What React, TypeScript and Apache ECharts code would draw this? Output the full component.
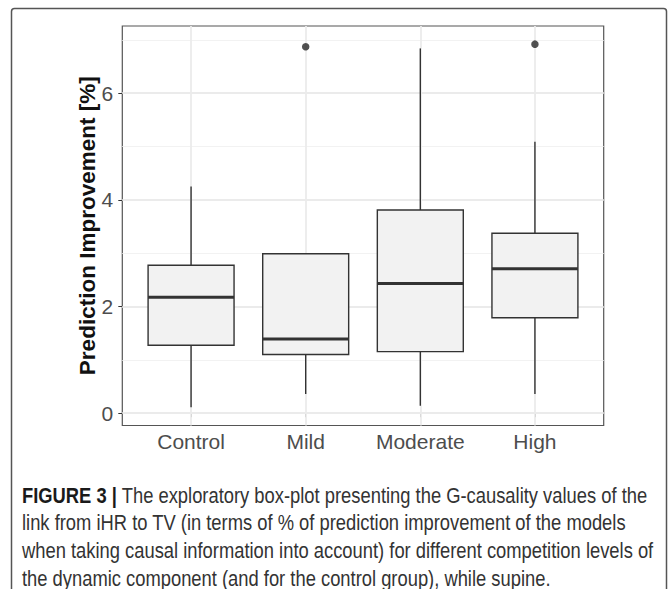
import React, { useEffect, useRef } from 'react';
import * as echarts from 'echarts';

const categories = ['Control', 'Mild', 'Moderate', 'High'];
const whiskerLow = [0.11, 0.36, 0.14, 0.36];
const quartile1 = [1.275, 1.1, 1.155, 1.79];
const medians = [2.175, 1.39, 2.43, 2.71];
const quartile3 = [2.775, 2.99, 3.81, 3.375];
const whiskerHigh = [4.25, 2.99, 6.84, 5.09];
const outlierCategory = ['Mild', 'High'];
const outlierValue = [6.87, 6.92];
const yMajorTicks = [0, 2, 4, 6];
const yMinorTicks = [1, 3, 5, 7];
const yMin = -0.23;
const yMax = 7.26;
const yTitle = 'Prediction Improvement [%]';
const captionBold = 'FIGURE 3 |';
const captionLines = [
  ' The exploratory box-plot presenting the G-causality values of the',
  'link from iHR to TV (in terms of % of prediction improvement of the models',
  'when taking causal information into account) for different competition levels of',
  'the dynamic component (and for the control group), while supine.',
];

const FONT = '"Liberation Sans", Arial, Helvetica, sans-serif';
const CAPTION_SIZE = 22;
const CAPTION_TARGET_WIDTH = 626;

function measure(text: string, font: string): number {
  const ctx = document.createElement('canvas').getContext('2d');
  if (!ctx) return text.length * 10;
  ctx.font = font;
  return ctx.measureText(text).width;
}

export default function App() {
  const ref = useRef<HTMLDivElement>(null);
  useEffect(() => {
    const chart = echarts.init(ref.current as HTMLDivElement, null, { renderer: 'svg' });
    const positions = categories.map((_, i) => i + 1);
    const boxData = categories.map((_, i) => [
      i + 1,
      whiskerLow[i],
      quartile1[i],
      medians[i],
      quartile3[i],
      whiskerHigh[i],
    ]);
    const outlierData = outlierCategory.map((c, i) => [categories.indexOf(c) + 1, outlierValue[i]]);
    const lineColor = '#333333';

    const w1 =
      measure(captionBold, `bold ${CAPTION_SIZE}px "Liberation Sans"`) +
      measure(captionLines[0], `${CAPTION_SIZE}px "Liberation Sans"`);
    const sx = w1 > 0 ? Math.min(1, CAPTION_TARGET_WIDTH / w1) : 0.9;

    const gridLeft = 122.3;
    const gridTop = 26;
    const gridHeight = 399.5;

    chart.setOption({
      animation: false,
      grid: {
        left: gridLeft,
        top: gridTop,
        width: 481.4,
        height: gridHeight,
        show: true,
        borderColor: '#555555',
        borderWidth: 1.2,
        backgroundColor: '#ffffff',
      },
      xAxis: {
        type: 'value',
        min: 0.4,
        max: 4.6,
        axisLine: { show: false },
        splitLine: { show: false },
        axisTick: {
          show: true,
          customValues: positions,
          length: 4,
          lineStyle: { color: lineColor, width: 1 },
        },
        axisLabel: {
          customValues: positions,
          formatter: (v: number) => categories[Math.round(v) - 1] ?? '',
          fontSize: 21,
          color: '#4d4d4d',
          margin: 5,
          fontFamily: FONT,
        },
      },
      yAxis: {
        type: 'value',
        min: yMin,
        max: yMax,
        axisLine: { show: false },
        splitLine: { show: false },
        axisTick: {
          show: true,
          customValues: yMajorTicks,
          length: 4,
          lineStyle: { color: lineColor, width: 1 },
        },
        axisLabel: {
          customValues: yMajorTicks,
          fontSize: 21,
          color: '#4d4d4d',
          margin: 9,
          fontFamily: FONT,
        },
      },
      series: [
        {
          type: 'line',
          data: [],
          z: 1,
          silent: true,
          markLine: {
            symbol: 'none',
            silent: true,
            animation: false,
            z: 1,
            zlevel: 0,
            label: { show: false },
            lineStyle: { color: '#ebebeb', width: 1.8, type: 'solid' },
            data: [
              ...yMinorTicks.map((v) => ({ yAxis: v, lineStyle: { color: '#f2f2f2', width: 1, type: 'solid' } })),
              ...yMajorTicks.map((v) => ({ yAxis: v })),
              ...positions.map((v) => ({ xAxis: v })),
            ],
          },
        },
        {
          type: 'custom',
          z: 6,
          data: boxData,
          encode: { x: 0, y: [1, 2, 3, 4, 5] },
          renderItem: (_params: any, api: any) => {
            const x = api.value(0);
            const lo = api.value(1);
            const a = api.value(2);
            const m = api.value(3);
            const b = api.value(4);
            const hi = api.value(5);
            const pLo = api.coord([x, lo]);
            const pHi = api.coord([x, hi]);
            const tl = api.coord([x - 0.375, b]);
            const br = api.coord([x + 0.375, a]);
            const pm = api.coord([x, m]);
            const stroke = { stroke: lineColor, lineWidth: 1.4 };
            return {
              type: 'group',
              children: [
                { type: 'line', shape: { x1: pLo[0], y1: pLo[1], x2: pLo[0], y2: br[1] }, style: stroke },
                { type: 'line', shape: { x1: pHi[0], y1: pHi[1], x2: pHi[0], y2: tl[1] }, style: stroke },
                {
                  type: 'rect',
                  shape: { x: tl[0], y: tl[1], width: br[0] - tl[0], height: br[1] - tl[1] },
                  style: { fill: '#f2f2f2', stroke: lineColor, lineWidth: 1.4 },
                },
                {
                  type: 'line',
                  shape: { x1: tl[0], y1: pm[1], x2: br[0], y2: pm[1] },
                  style: { stroke: lineColor, lineWidth: 3 },
                },
              ],
            };
          },
        },
        {
          type: 'scatter',
          z: 7,
          data: outlierData,
          symbol: 'circle',
          symbolSize: 7.5,
          itemStyle: { color: '#262626' },
        },
      ],
      graphic: [
        {
          type: 'rect',
          shape: { x: 11.5, y: 8.5, width: 655, height: 620, r: 3 },
          style: { fill: 'none', stroke: '#555555', lineWidth: 1.5 },
          z: 0,
          silent: true,
        },
        {
          type: 'text',
          x: 87,
          y: gridTop + gridHeight / 2,
          rotation: Math.PI / 2,
          style: {
            text: yTitle,
            fontSize: 22.5,
            fontWeight: 'bold',
            fontFamily: FONT,
            fill: '#111111',
            align: 'center',
            verticalAlign: 'middle',
          },
          z: 10,
        },
        ...captionLines.map((line, i) => ({
          type: 'text',
          x: 22,
          y: 495 + i * 27.8,
          scaleX: sx,
          style: {
            text: i === 0 ? `{b|${captionBold}}${line}` : line,
            fontSize: CAPTION_SIZE,
            fontFamily: '"Liberation Sans"',
            fill: '#333333',
            verticalAlign: 'middle',
            align: 'left',
            rich: {
              b: { fontSize: CAPTION_SIZE, fontWeight: 'bold', fill: '#1a1a1a', fontFamily: '"Liberation Sans"' },
            },
          },
          z: 10,
        })),
      ],
    });
    return () => chart.dispose();
  }, []);
  return (
    <div
      ref={ref}
      style={{ position: 'absolute', left: 0, top: 0, width: 669, height: 589, background: '#ffffff' }}
    />
  );
}
